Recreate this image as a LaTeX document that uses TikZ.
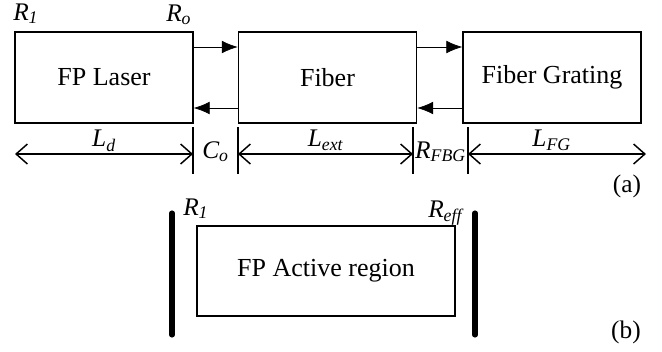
\documentclass[tikz,border=0pt]{standalone}
\usepackage{fontspec}
\setmainfont{Liberation Serif}
\usetikzlibrary{arrows.meta,calc}

\begin{document}
\begin{tikzpicture}
	[x=0.75pt,y=-0.75pt,
	 block/.style={draw,line width=1.1pt,minimum width=133.5pt,minimum height=68.25pt,inner sep=0pt,font=\fontsize{19.5}{23}\selectfont},
	 lab/.style={inner sep=0pt,font=\fontsize{19}{23}\selectfont\itshape},
	 beam/.style={-{Latex[length=12pt,width=9.5pt]},line width=0.5pt},
	 dim/.style={{Straight Barb[length=8.5pt,width=15pt]}-{Straight Barb[length=8.5pt,width=15pt]},line width=1.1pt},
	 tick/.style={line width=1.1pt},
	 mirror/.style={line width=3.8pt,line cap=round}]
	\useasboundingbox (0,0) rectangle (662,351);
	%
	% cavity with fiber grating
	%
	\node[block] (laser) at (104,77.5) {FP Laser};
	\node[block] (fiber) at (327.5,77.5) {Fiber};
	\node[block] (grating) at (552,77.5) {Fiber Grating};

	% reflectivities
	\node[lab,anchor=base west] (R1) at (13,20) {R\textsubscript{1}};
	\node[lab,anchor=base west] (Ro) at (166,21) {R\textsubscript{o}};

	% forward and backward waves
	\draw[beam] ($(laser.east)+(0,-30.5)$) -- ($(fiber.west)+(0,-30.5)$);
	\draw[beam] ($(fiber.west)+(0,30.5)$) -- ($(laser.east)+(0,30.5)$);
	\draw[beam] ($(fiber.east)+(0,-30.5)$) -- ($(grating.west)+(0,-30.5)$);
	\draw[beam] ($(grating.west)+(0,30.5)$) -- ($(fiber.east)+(0,30.5)$);

	% points on the length scale
	\coordinate (d0) at (15,154);
	\coordinate (d1) at (193,154);
	\coordinate (d2) at (238,154);
	\coordinate (d3) at (413,154);
	\coordinate (d4) at (468,154);
	\coordinate (d5) at (646,154);
	\foreach \t in {d1,d2,d3,d4}
		\draw[tick] ($(\t)+(0,-27)$) -- ($(\t)+(0,20)$);

	% lengths
	\draw[dim] (d0) -- (d1)
		node[lab,midway,anchor=base,yshift=5.5pt] (Ld) {L\textsubscript{d}};
	\draw[dim] (d2) -- (d3)
		node[lab,midway,anchor=base,yshift=5.5pt] (Lext) {L\textsubscript{ext}};
	\draw[dim] (d4) -- (d5)
		node[lab,midway,anchor=base,xshift=-4pt,yshift=5.5pt] (LFG) {L\textsubscript{FG}};
	\node[lab,anchor=base] (Co) at ($(d1)!0.5!(d2)+(0,4)$) {C\textsubscript{o}};
	\node[lab,anchor=base] (RFBG) at ($(d3)!0.5!(d4)+(0,4)$) {R\textsubscript{FBG}};

	\node[font=\fontsize{19}{23}\selectfont,inner sep=0pt] (pa) at (627,186) {(a)};

	%
	% equivalent cavity
	%
	\node[block,minimum width=193.5pt,minimum height=67.5pt] (active) at (326,271) {FP Active region};

	% mirrors
	\coordinate (M1a) at (172,213);
	\coordinate (M1b) at (172,335);
	\coordinate (M2a) at (475,213);
	\coordinate (M2b) at (475,335);
	\draw[mirror] (M1a) -- (M1b);
	\draw[mirror] (M2a) -- (M2b);

	\node[lab,anchor=base west] (R1b) at (183,215) {R\textsubscript{1}};
	\node[lab,anchor=base west] (Reff) at (428,217) {R\textsubscript{eff}};

	\node[font=\fontsize{19}{23}\selectfont,inner sep=0pt] (pb) at (626,332) {(b)};
\end{tikzpicture}
\end{document}
